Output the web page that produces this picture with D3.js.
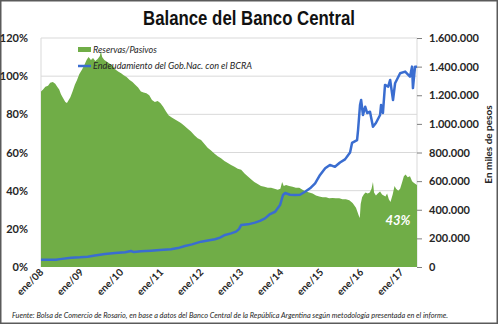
<!DOCTYPE html>
<html>
<head>
<meta charset="utf-8">
<script src="https://cdn.jsdelivr.net/npm/d3@7"></script>
<style>
  html, body { margin: 0; padding: 0; background: #fff; }
  svg { display: block; }
</style>
</head>
<body>
<script>
// Reservas / Pasivos del BCRA (%)
const ratioDates = [
  "2008-01-01","2008-01-20","2008-02-10","2008-03-05","2008-03-25","2008-04-18","2008-05-10","2008-05-28",
  "2008-06-15","2008-07-01","2008-07-20","2008-08-10","2008-08-25","2008-09-10","2008-09-25","2008-10-15",
  "2008-11-05","2008-11-25","2008-12-15","2009-01-10","2009-02-01","2009-02-20","2009-03-10","2009-04-01",
  "2009-04-20","2009-05-10","2009-06-01","2009-06-20","2009-07-01","2009-07-12","2009-08-01","2009-08-25",
  "2009-09-20","2009-10-15","2009-11-10","2009-12-05","2010-01-01","2010-01-25","2010-02-20","2010-03-20",
  "2010-04-15","2010-05-10","2010-06-05","2010-07-01","2010-07-25","2010-08-20","2010-09-15","2010-10-10",
  "2010-11-05","2010-12-01","2010-12-25","2011-01-20","2011-02-15","2011-03-10","2011-04-05","2011-05-01",
  "2011-06-01","2011-07-01","2011-08-01","2011-09-01","2011-10-01","2011-11-01","2011-12-01","2012-01-01",
  "2012-02-01","2012-03-01","2012-04-01","2012-05-01","2012-06-01","2012-07-01","2012-08-01","2012-09-01",
  "2012-10-01","2012-11-01","2012-12-01","2013-01-01","2013-02-01","2013-03-01","2013-04-01","2013-05-01",
  "2013-06-01","2013-07-01","2013-08-01","2013-09-01","2013-10-01","2013-11-01","2013-12-01","2013-12-25",
  "2014-01-10","2014-01-25","2014-02-15","2014-03-15","2014-04-15","2014-05-15","2014-06-15","2014-07-15",
  "2014-08-15","2014-09-15","2014-10-15","2014-11-15","2014-12-15","2015-01-15","2015-02-15","2015-03-15",
  "2015-04-15","2015-05-15","2015-06-15","2015-07-15","2015-08-15","2015-09-15","2015-10-15","2015-11-15",
  "2015-12-10","2015-12-20","2015-12-28","2016-01-10","2016-01-25","2016-02-10","2016-03-01","2016-03-20",
  "2016-04-05","2016-04-18","2016-04-28","2016-05-15","2016-06-01","2016-06-22","2016-07-10","2016-07-25",
  "2016-08-10","2016-08-25","2016-09-10","2016-09-25","2016-10-15","2016-11-01","2016-11-15","2016-12-05",
  "2016-12-22","2017-01-10","2017-01-25","2017-02-10","2017-03-01","2017-03-22","2017-04-10","2017-04-28",
  "2017-05-25"
];
const ratioValues = [
  92, 93, 94.5, 95, 96.5, 97, 96, 94.5,
  93, 90.5, 88.5, 86.5, 86, 87.5, 89, 92,
  95.5, 98, 101, 103.5, 106, 108.5, 110, 108.5,
  109.5, 108, 109, 110.5, 113, 110, 108.5, 107.5,
  106.5, 105.5, 103.5, 102.5, 101.5, 100.5, 99.5, 98,
  97, 95.5, 94, 92, 91.5, 91, 90, 87.5,
  86.5, 87, 86, 84, 81.5, 79.5, 78.5, 77.5,
  76.5, 75.5, 74, 72.5, 71, 69, 67.5, 66.5,
  64.5, 62.5, 61, 59.5, 58, 57, 55.5, 54.5,
  53.5, 52.5, 51.5, 51, 49, 47.5, 46, 44.5,
  43.5, 42.5, 42, 41.5, 41.5, 41, 40.5, 41,
  44.5, 42.5, 43, 42.5, 42, 41.5, 41.5, 40.5,
  39.5, 39, 38.5, 37.5, 37, 36.5, 36.5, 36,
  36.2, 36, 36, 35.5, 35.5, 35, 33.5, 31,
  27, 25.7, 33, 36.5, 38, 39, 38.5, 39,
  41, 44.5, 39, 37.5, 38.5, 39.5, 38, 37.5,
  37, 38.5, 35.5, 34, 38, 42.5, 41, 40,
  41, 44.5, 47.5, 48.5, 47, 47.5, 45, 44,
  43
];

// Endeudamiento del Gob. Nac. con el BCRA (miles de pesos)
const debtDates = [
  "2008-01-01","2008-05-15","2008-06-22","2008-10-01","2008-12-22","2009-03-03","2009-05-07","2009-08-07",
  "2009-11-07","2010-02-07","2010-04-01","2010-04-28","2010-07-01","2010-10-01","2010-12-22","2011-04-01",
  "2011-06-04","2011-08-07","2011-10-10","2012-01-01","2012-03-04","2012-05-07","2012-06-22","2012-08-07",
  "2012-10-01","2012-11-15","2012-12-12","2013-01-01","2013-03-04","2013-05-07","2013-06-22","2013-08-07",
  "2013-09-22","2013-11-07","2013-12-22","2014-01-18","2014-02-07","2014-03-22","2014-05-07","2014-06-22",
  "2014-08-07","2014-09-22","2014-11-07","2014-12-22","2015-02-07","2015-03-22","2015-05-07","2015-06-22",
  "2015-08-07","2015-09-22","2015-10-10","2015-11-25","2015-12-04","2015-12-22","2016-01-01","2016-01-18",
  "2016-02-07","2016-02-25","2016-03-22","2016-04-18","2016-05-15","2016-06-22","2016-07-01","2016-07-18",
  "2016-08-06","2016-09-04","2016-09-22","2016-10-18","2016-11-06","2016-12-22","2017-02-06","2017-03-22",
  "2017-04-10","2017-04-18","2017-05-07","2017-05-25"
];
const debtValues = [
  50000, 50000, 55000, 65000, 68000, 72000, 80000, 91000,
  98000, 103000, 112000, 104000, 110000, 114000, 118000, 124000,
  132000, 147000, 158000, 177000, 185000, 194000, 205000, 224000,
  235000, 247000, 265000, 293000, 298000, 310000, 322000, 340000,
  370000, 386000, 433000, 503000, 517000, 505000, 503000, 505000,
  526000, 550000, 585000, 643000, 690000, 713000, 700000, 730000,
  752000, 800000, 867000, 887000, 957000, 1132000, 1167000, 1062000,
  1120000, 1076000, 1085000, 980000, 1006000, 1062000, 1132000, 1076000,
  1272000, 1260000, 1307000, 1167000, 1284000, 1354000, 1365000, 1330000,
  1400000, 1250000, 1400000, 1400000
];

const leftTicks = [0, 20, 40, 60, 80, 100, 120];
const rightTicks = [0, 200000, 400000, 600000, 800000, 1000000, 1200000, 1400000, 1600000];
const yearTicks = ["2008-01-01","2009-01-01","2010-01-01","2011-01-01","2012-01-01","2013-01-01","2014-01-01","2015-01-01","2016-01-01","2017-01-01"];

const seriesNames = ["Reservas/Pasivos", "Endeudamiento del Gob.Nac. con el BCRA"];
const titleText = "Balance del Banco Central";
const rightAxisTitle = "En miles de pesos";
const lastLabel = "43%";
const sourceText = "Fuente: Bolsa de Comercio  de Rosario, en base a datos del Banco Central de la República Argentina según metodología presentada en el informe.";

const W = 499, H = 325;
const plot = { left: 41, right: 417, top: 38, bottom: 267 };
const GREEN = "#70ad47", BLUE = "#3a6dd0", GRID = "#d9d9d9", TEXT = "#262626";
const labelFont = "Lato, 'Open Sans', 'Liberation Sans', sans-serif";

const parse = d3.timeParse("%Y-%m-%d");
const ratio = ratioDates.map((d, i) => ({ date: parse(d), value: ratioValues[i] }));
const debt = debtDates.map((d, i) => ({ date: parse(d), value: debtValues[i] }));

const x = d3.scaleTime()
  .domain([parse("2008-01-01"), parse("2017-05-25")])
  .range([plot.left, plot.right]);
const yL = d3.scaleLinear().domain([0, 120]).range([plot.bottom, plot.top]);
const yR = d3.scaleLinear().domain([0, 1600000]).range([plot.bottom, plot.top]);

const svg = d3.select("body").append("svg").attr("width", W).attr("height", H);

// outer frame
svg.append("rect")
  .attr("x", 0.75).attr("y", 0.75).attr("width", W - 2.5).attr("height", H - 2.5)
  .attr("fill", "#fff").attr("stroke", "#5a5a5a").attr("stroke-width", 1.5);

// title
svg.append("text")
  .attr("x", 249).attr("y", 25)
  .attr("text-anchor", "middle")
  .attr("font-family", "'Liberation Sans Narrow', 'Arial Narrow', 'Liberation Sans', sans-serif")
  .attr("font-weight", "bold").attr("font-size", 20)
  .attr("fill", "#111")
  .attr("textLength", 212).attr("lengthAdjust", "spacingAndGlyphs")
  .text(titleText);

// horizontal gridlines (left axis)
svg.append("g").selectAll("line").data(leftTicks.filter(t => t > 0)).join("line")
  .attr("x1", plot.left).attr("x2", plot.right)
  .attr("y1", d => yL(d)).attr("y2", d => yL(d))
  .attr("stroke", GRID).attr("stroke-width", 1);

// plot area sides
svg.append("line").attr("x1", plot.left).attr("x2", plot.left)
  .attr("y1", plot.top).attr("y2", plot.bottom).attr("stroke", GRID);
svg.append("line").attr("x1", plot.right).attr("x2", plot.right)
  .attr("y1", plot.top).attr("y2", plot.bottom).attr("stroke", GRID);

// reserves / liabilities area
const area = d3.area()
  .x(d => x(d.date))
  .y0(yL(0))
  .y1(d => yL(d.value));
svg.append("path").datum(ratio)
  .attr("d", area).attr("fill", GREEN);

// debt line
const line = d3.line()
  .x(d => x(d.date))
  .y(d => yR(d.value));
svg.append("path").datum(debt)
  .attr("d", line).attr("fill", "none")
  .attr("stroke", BLUE).attr("stroke-width", 2.5)
  .attr("stroke-linejoin", "round");

// left axis labels
svg.append("g").selectAll("text").data(leftTicks).join("text")
  .attr("x", 28).attr("y", d => yL(d) + 4)
  .attr("text-anchor", "end")
  .attr("font-family", labelFont).attr("font-weight", "bold").attr("font-size", 11)
  .attr("fill", TEXT)
  .text(d => d + "%");

// right axis
const fmtThousands = d3.formatLocale({ decimal: ",", thousands: ".", grouping: [3], currency: ["$", ""] }).format(",");
const rightAxis = d3.axisRight(yR).tickValues(rightTicks).tickSize(5).tickPadding(7).tickFormat(fmtThousands);
const gR = svg.append("g").attr("transform", `translate(${plot.right},0)`).call(rightAxis);
gR.select(".domain").remove();
gR.selectAll(".tick line").attr("stroke", "#7f7f7f");
gR.selectAll(".tick text")
  .attr("font-family", labelFont).attr("font-weight", "bold").attr("font-size", 11)
  .attr("fill", TEXT);

// right axis title
svg.append("text")
  .attr("transform", `translate(492,${(plot.top + plot.bottom) / 2 - 8}) rotate(-90)`)
  .attr("text-anchor", "middle")
  .attr("font-family", labelFont).attr("font-weight", "bold").attr("font-size", 10)
  .attr("fill", TEXT)
  .text(rightAxisTitle);

// x axis labels, rotated
const fmtYear = d3.timeFormat("%y");
svg.append("g").selectAll("text").data(yearTicks.map(parse)).join("text")
  .attr("transform", d => `translate(${x(d) + 3},${plot.bottom + 6}) rotate(-45)`)
  .attr("text-anchor", "end")
  .attr("font-family", labelFont).attr("font-weight", "bold").attr("font-size", 10)
  .attr("fill", TEXT)
  .text(d => "ene/" + fmtYear(d));

// legend
const lg = svg.append("g").attr("font-family", labelFont).attr("font-style", "italic")
  .attr("font-size", 9).attr("fill", TEXT);
lg.append("rect").attr("x", 78).attr("y", 47).attr("width", 13).attr("height", 5).attr("fill", GREEN);
lg.append("text").attr("x", 93).attr("y", 53).text(seriesNames[0]);
lg.append("line").attr("x1", 78).attr("x2", 91).attr("y1", 66).attr("y2", 66)
  .attr("stroke", BLUE).attr("stroke-width", 2.5);
lg.append("text").attr("x", 93).attr("y", 69)
  .attr("textLength", 159).attr("lengthAdjust", "spacingAndGlyphs")
  .text(seriesNames[1]);

// last-value label
svg.append("text")
  .attr("x", 398).attr("y", 225)
  .attr("text-anchor", "middle")
  .attr("font-family", labelFont).attr("font-style", "italic").attr("font-weight", "bold")
  .attr("font-size", 13).attr("fill", "#fff")
  .text(lastLabel);

// source note
svg.append("text")
  .attr("x", 12).attr("y", 318)
  .attr("font-family", labelFont).attr("font-style", "italic")
  .attr("font-size", 7).attr("fill", TEXT)
  .attr("textLength", 436).attr("lengthAdjust", "spacingAndGlyphs")
  .text(sourceText);
</script>
</body>
</html>
